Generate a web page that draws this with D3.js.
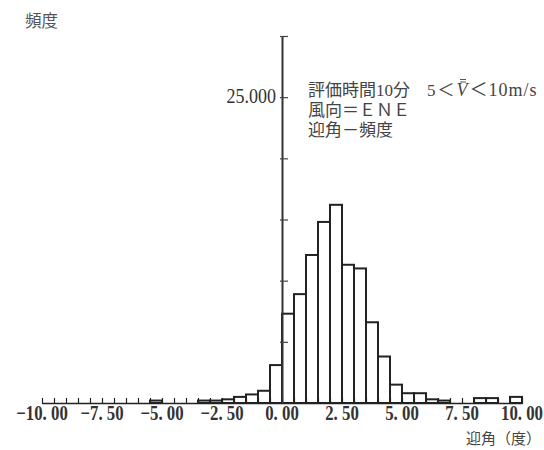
<!DOCTYPE html>
<html><head><meta charset="utf-8">
<script src="https://cdn.jsdelivr.net/npm/d3@7"></script>
<style>body{margin:0;background:#fff}</style></head>
<body>
<svg id="c" width="544" height="450"></svg>
<script>
// Histogram bins (left edge, degrees) and frequency per bin
const binStarts = [-10,-9.5,-9,-8.5,-8,-7.5,-7,-6.5,-6,-5.5,-5,-4.5,-4,-3.5,-3,-2.5,-2,-1.5,-1,-0.5,
                   0,0.5,1,1.5,2,2.5,3,3.5,4,4.5,5,5.5,6,6.5,7,7.5,8,8.5,9,9.5];
const freq      = [0,0,0,0,0,0,0,0,0,0.2,0,0,0,0.2,0.2,0.3,0.5,0.7,1.0,3.1,
                   7.3,8.9,12.1,14.8,16.2,11.3,11.0,6.6,3.8,1.5,0.8,0.8,0.3,0.2,0,0,0.4,0.4,0,0.5];
const binWidth = 0.5;
const xTickValues = [-10,-7.5,-5,-2.5,0,2.5,5,7.5,10];
const xTickLabels = ["\u221210. 00","\u22127. 50","\u22125. 00","\u22122. 50","0. 00","2. 50","5. 00","7. 50","10. 00"];
const yTickValues = [5,10,15,20,25,30];
const yLabelValues = [25];
const yLabels = ["25.000"];
const titleParts = ["評価時間10分\u3000", "5＜", "V", "＜10m/s"];
const titleLines = ["風向＝ＥＮＥ","迎角－頻度"];
const yAxisTitle = "頻度";
const xAxisTitle = "迎角（度）";

const svg = d3.select("#c");
const x = d3.scaleLinear().domain([-10,10]).range([42,522]);
const y = d3.scaleLinear().domain([0,30]).range([403,36]);
const ink = "#222";

// bars
const data = binStarts.map((s,i)=>({s, v:freq[i]})).filter(d=>d.v>0);
svg.append("g").selectAll("rect").data(data).join("rect")
  .attr("x", d=>x(d.s)).attr("width", d=>x(d.s+binWidth)-x(d.s))
  .attr("y", d=>y(d.v)).attr("height", d=>y(0)-y(d.v))
  .attr("fill","#fff").attr("stroke",ink).attr("stroke-width",2);

// x axis with minor ticks every 0.5
const minor = d3.range(-10, 10.001, 0.5);
const gx = svg.append("g").attr("transform",`translate(0,${y(0)})`)
  .call(d3.axisBottom(x).tickValues(minor).tickSize(-5).tickSizeOuter(0).tickFormat(""));
gx.select(".domain").attr("stroke",ink).attr("stroke-width",1.6);
gx.selectAll(".tick line").attr("stroke",ink).attr("stroke-width",1.2).attr("y2",-5).attr("y1",1);

// x labels
svg.append("g").selectAll("text").data(xTickValues).join("text")
  .attr("transform", d=>`translate(${x(d)},420) scale(0.8,1)`)
  .attr("text-anchor","middle")
  .attr("font-family","Liberation Serif").attr("font-size",21).attr("font-weight","bold")
  .attr("fill","#333")
  .text((d,i)=>xTickLabels[i]);

// y axis
const gy = svg.append("g").attr("transform",`translate(${x(0)},0)`)
  .call(d3.axisRight(y).tickValues(yTickValues).tickSize(6).tickSizeOuter(0).tickFormat(""));
gy.select(".domain").attr("stroke","#333").attr("stroke-width",2);
gy.selectAll(".tick line").attr("stroke","#444").attr("stroke-width",1.2).attr("x1",-2);

// y label
svg.append("g").selectAll("text").data(yLabelValues).join("text")
  .attr("transform", d=>`translate(${x(0)-6},${y(d)+6}) scale(0.9,1)`)
  .attr("text-anchor","end")
  .attr("font-family","Liberation Serif").attr("font-size",20)
  .attr("fill","#333")
  .text((d,i)=>yLabels[i]);

// titles
const cjk = "'Liberation Serif','Noto Sans CJK JP'";
svg.append("text").attr("x",25).attr("y",27).attr("font-family",cjk).attr("font-size",16.5)
  .attr("fill","#555").text(yAxisTitle);
svg.append("text").attr("x",466).attr("y",444).attr("font-family",cjk).attr("font-size",15)
  .attr("fill","#444").text(xAxisTitle);

const lines = svg.append("g").attr("font-family",cjk).attr("font-size",17).attr("fill","#444");
const t1 = lines.append("text").attr("x",308).attr("y",96);
t1.append("tspan").text(titleParts[0]);
t1.append("tspan").attr("letter-spacing",2).text(titleParts[1]);
t1.append("tspan").attr("font-style","italic").attr("font-size",18).attr("letter-spacing",2).text(titleParts[2]);
t1.append("tspan").attr("font-size",18).attr("letter-spacing",1).text(titleParts[3]);
{
  const n = t1.node();
  const idx = titleParts[0].length + titleParts[1].length;
  const a = n.getStartPositionOfChar(idx).x, b = n.getEndPositionOfChar(idx).x;
  const m = (a+b)/2;
  [79.5,82].forEach(yy=>lines.append("line").attr("x1",m-3).attr("x2",m+3).attr("y1",yy).attr("y2",yy)
    .attr("stroke","#555").attr("stroke-width",1));
}
titleLines.forEach((t,i)=>{
  lines.append("text").attr("x",308).attr("y",116+i*20).text(t);
});
</script>
</body></html>
